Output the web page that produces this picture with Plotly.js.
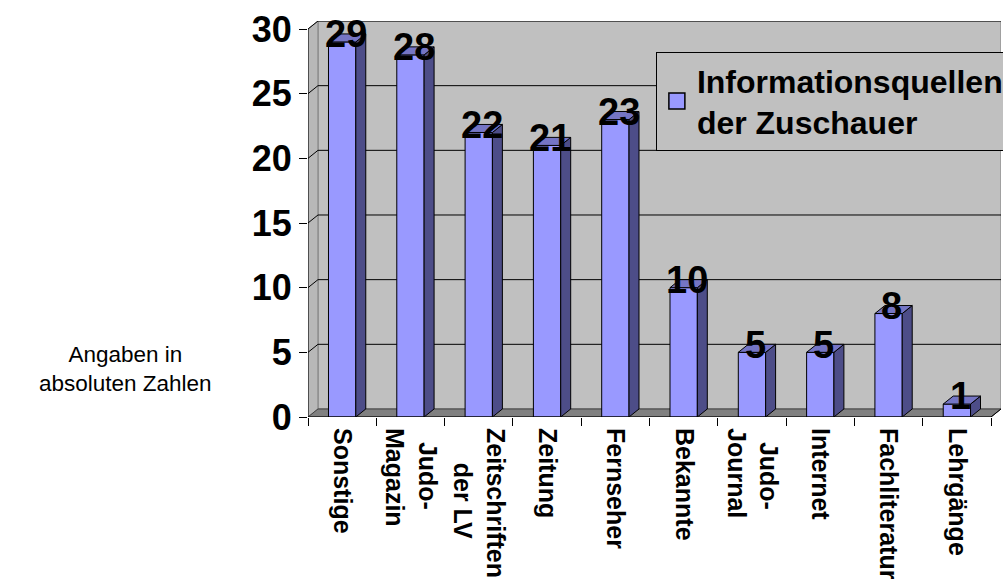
<!DOCTYPE html>
<html>
<head>
<meta charset="utf-8">
<script src="https://cdn.plot.ly/plotly-3.0.1.min.js"></script>
<style>html,body{margin:0;padding:0;background:#fff;}#chart{width:1003px;height:586px;}</style>
</head>
<body>
<div id="chart"></div>
<script>
// ---- data ----
const categories = ["Sonstige", "\u00A0\u00A0Judo-<br>Magazin", "Zeitschriften<br>\u00A0\u00A0\u00A0\u00A0\u00A0der LV", "Zeitung", "Fernseher", "Bekannte", "\u00A0\u00A0Judo-<br>Journal", "Internet", "Fachliteratur", "Lehrgänge"];
const values = [29, 28, 22, 21, 23, 10, 5, 5, 8, 1];
const seriesName = "Informationsquellen<br>der Zuschauer";
const yTicks = [0, 5, 10, 15, 20, 25, 30];
const yTitle = "Angaben in<br>absoluten Zahlen";

// ---- styling / 3D depth ----
const FONT = "Liberation Sans, Arial, sans-serif";
const dx = 0.146, dy = 0.62, halfW = 0.2;
const n = categories.length;
const yMax = yTicks[yTicks.length - 1];
const idx = categories.map((c, i) => i);

const shapes = [];
// back wall
shapes.push({type: "rect", xref: "x", yref: "y", layer: "below",
  x0: -0.5 + dx, x1: n - 0.5 + dx, y0: dy, y1: yMax + dy,
  fillcolor: "#C0C0C0", line: {color: "#808080", width: 1}});
// left side wall
shapes.push({type: "path", xref: "x", yref: "y", layer: "below",
  path: `M -0.5,0 L ${-0.5 + dx},${dy} L ${-0.5 + dx},${yMax + dy} L -0.5,${yMax} Z`,
  fillcolor: "#B8B8B8", line: {color: "#808080", width: 1}});
// floor
shapes.push({type: "path", xref: "x", yref: "y", layer: "below",
  path: `M -0.5,0 L ${n - 0.5},0 L ${n - 0.5 + dx},${dy} L ${-0.5 + dx},${dy} Z`,
  fillcolor: "#808080", line: {color: "#404040", width: 1}});
// gridlines on wall
yTicks.forEach(t => {
  if (t === 0) return;
  shapes.push({type: "line", xref: "x", yref: "y", layer: "below",
    x0: -0.5 + dx, x1: n - 0.5 + dx, y0: t + dy, y1: t + dy, line: {color: "#000", width: 1}});
  shapes.push({type: "line", xref: "x", yref: "y", layer: "below",
    x0: -0.5, x1: -0.5 + dx, y0: t, y1: t + dy, line: {color: "#000", width: 1}});
});
// axis lines
shapes.push({type: "line", xref: "x", yref: "y", layer: "above",
  x0: -0.5, x1: -0.5, y0: 0, y1: yMax, line: {color: "#000", width: 1}});
shapes.push({type: "line", xref: "x", yref: "y", layer: "above",
  x0: -0.5, x1: n - 0.5, y0: 0, y1: 0, line: {color: "#000", width: 1}});
shapes.push({type: "line", xref: "x", yref: "y", layer: "above",
  x0: n - 0.5, x1: n - 0.5 + dx, y0: 0, y1: dy, line: {color: "#000", width: 1}});
// bar side + top faces
values.forEach((v, i) => {
  shapes.push({type: "path", xref: "x", yref: "y", layer: "above",
    path: `M ${i + halfW},0 L ${i + halfW + dx},${dy} L ${i + halfW + dx},${v + dy} L ${i + halfW},${v} Z`,
    fillcolor: "#4D4D88", line: {color: "#000", width: 1}});
  shapes.push({type: "path", xref: "x", yref: "y", layer: "above",
    path: `M ${i - halfW},${v} L ${i + halfW},${v} L ${i + halfW + dx},${v + dy} L ${i - halfW + dx},${v + dy} Z`,
    fillcolor: "#7575C4", line: {color: "#000", width: 1}});
});

const annotations = values.map((v, i) => ({
  xref: "x", yref: "y", x: i + 0.05, y: v + 0.6, text: String(v), showarrow: false,
  xanchor: "center", yanchor: "middle",
  font: {family: FONT, size: 38, color: "#000", weight: "bold"}
}));
annotations.push({xref: "paper", yref: "paper", x: -0.264, y: 0.12, text: yTitle,
  showarrow: false, xanchor: "center", yanchor: "middle", align: "center",
  font: {family: FONT, size: 22.5, color: "#000"}});

const trace = {
  type: "bar", x: idx, y: values, name: seriesName, width: 0.4,
  marker: {color: "#9999FF", line: {color: "#000", width: 1}},
  hoverinfo: "skip", showlegend: false
};
// legend entry for the series (larger square symbol like the original)
const legendTrace = {
  type: "scatter", mode: "markers", x: [null], y: [null], name: seriesName,
  marker: {symbol: "square", size: 16, color: "#9999FF", line: {color: "#000", width: 1.5}},
  hoverinfo: "skip", showlegend: true
};

const layout = {
  width: 1003, height: 586,
  margin: {l: 308, r: 2, t: 21, b: 169, autoexpand: false},
  paper_bgcolor: "#FFFFFF", plot_bgcolor: "rgba(0,0,0,0)",
  font: {family: FONT, color: "#000"},
  showlegend: true,
  legend: {x: 0.502, y: 0.922, xanchor: "left", yanchor: "top", itemsizing: "trace",
    bgcolor: "#C0C0C0", bordercolor: "#000", borderwidth: 1,
    font: {family: FONT, size: 32, weight: "bold", color: "#000"}},
  xaxis: {range: [-0.5, n - 0.5 + dx], tickvals: idx, ticktext: categories,
    tickangle: 90, ticks: "", showgrid: false, zeroline: false, showline: false,
    ticklabelstandoff: 10, automargin: false,
    tickfont: {family: FONT, size: 25, weight: "bold", color: "#000"}, fixedrange: true},
  xaxis2: {overlaying: "x", range: [-0.5, n - 0.5 + dx], anchor: "y",
    tickvals: idx.map(i => i - 0.5).concat([n - 0.5]), ticktext: idx.map(() => "").concat([""]),
    ticks: "outside", ticklen: 8, tickcolor: "#000", side: "bottom", showgrid: false,
    zeroline: false, showline: false, fixedrange: true},
  yaxis: {range: [0, yMax + dy], tickvals: yTicks, ticks: "outside", ticklen: 8, tickcolor: "#000",
    showgrid: false, zeroline: false, showline: false, automargin: false,
    tickfont: {family: FONT, size: 36, weight: "bold", color: "#000"}, fixedrange: true},
  shapes: shapes,
  annotations: annotations,
  bargap: 0.6
};

const tickTrace = {type: "scatter", x: [-0.5, n - 0.5], y: [0, 0], xaxis: "x2", yaxis: "y",
  mode: "markers", marker: {opacity: 0}, showlegend: false, hoverinfo: "skip"};

Plotly.newPlot("chart", [trace, legendTrace, tickTrace], layout, {staticPlot: true});
</script>
</body>
</html>
